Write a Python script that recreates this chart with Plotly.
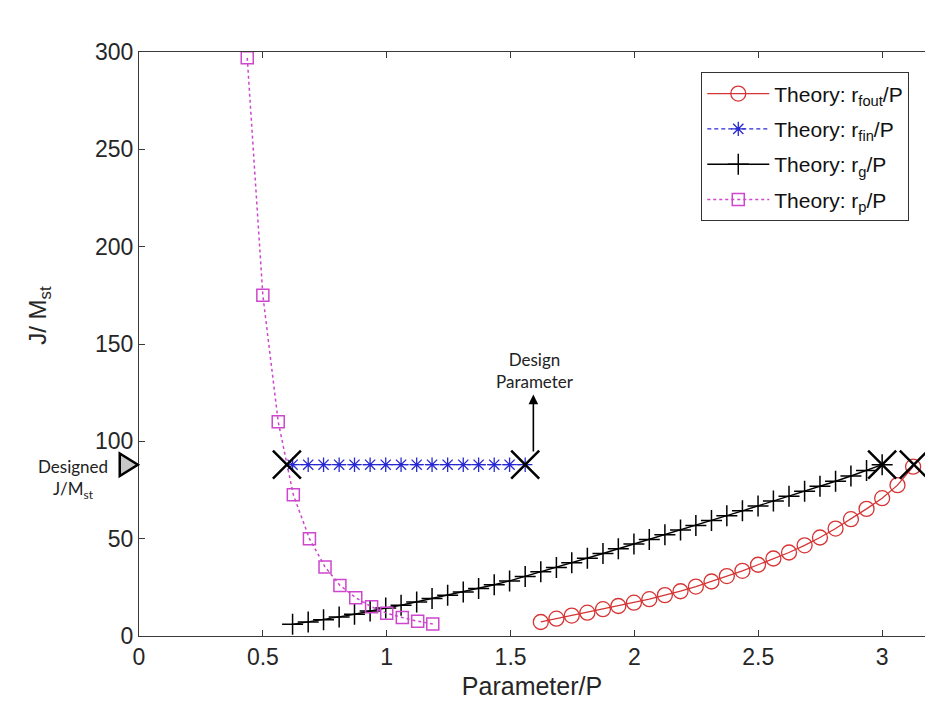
import plotly.graph_objects as go

# ---- data ----
grid_g = [0.620, 0.683, 0.745, 0.808, 0.870, 0.933, 0.996, 1.058, 1.121, 1.183,
          1.246, 1.309, 1.371, 1.434, 1.496, 1.559, 1.622, 1.685, 1.747, 1.810,
          1.873, 1.935, 1.998, 2.060, 2.123, 2.186, 2.248, 2.311, 2.373, 2.436,
          2.499, 2.561, 2.624, 2.687, 2.749, 2.812, 2.874, 2.937, 3.000]
rg_y = [6.0, 7.2, 8.4, 9.8, 11.2, 12.9, 14.4, 15.8, 17.5, 19.2,
        20.9, 22.6, 24.4, 26.3, 28.3, 30.6, 33.0, 35.2, 37.6, 40.0,
        42.4, 44.8, 47.2, 49.6, 52.0, 54.4, 56.8, 59.3, 61.8, 64.3,
        66.8, 69.3, 71.8, 74.3, 76.9, 79.5, 82.2, 85.0, 88.0]

rfout_x = [1.622, 1.685, 1.747, 1.810, 1.873, 1.935, 1.998, 2.060, 2.123, 2.186,
           2.248, 2.311, 2.373, 2.436, 2.499, 2.561, 2.624, 2.687, 2.749, 2.812,
           2.874, 2.937, 3.000, 3.062, 3.125]
rfout_y = [7.2, 8.9, 10.5, 12.0, 13.8, 15.4, 17.1, 18.9, 21.0, 23.0,
           25.4, 28.0, 30.8, 33.5, 36.6, 39.8, 42.9, 46.6, 50.6, 55.2,
           60.0, 65.3, 70.8, 77.5, 87.0]

rfin_x = [0.620, 0.683, 0.745, 0.808, 0.870, 0.933, 0.996, 1.058, 1.121, 1.183,
          1.246, 1.309, 1.371, 1.434, 1.496, 1.559]
rfin_y = [88, 88, 88, 88, 88, 88, 88, 88, 88, 88, 88, 88, 88, 88, 88, 88]

rp_x = [0.437, 0.500, 0.562, 0.623, 0.688, 0.751, 0.811, 0.875, 0.939, 1.000,
        1.063, 1.125, 1.186]
rp_y = [297.0, 175.0, 110.0, 72.5, 50.0, 35.5, 26.0, 19.7, 15.0, 11.7,
        9.5, 7.6, 6.2]

cross_x = [0.597, 1.559, 3.000, 3.128]
cross_y = [88, 88, 88, 88]

designed_value = 88
arrow_x = 1.592
arrow_tail_y = 94
arrow_head_y = 124

x_ticks = [0, 0.5, 1, 1.5, 2, 2.5, 3]
x_ticklabels = ["0", "0.5", "1", "1.5", "2", "2.5", "3"]
y_ticks = [0, 50, 100, 150, 200, 250, 300]

RED = "rgb(214,52,52)"
BLUE = "rgb(40,40,210)"
MAG = "rgb(205,70,205)"
AX = "#3a3a3a"
FONT = "Liberation Sans, Arial, sans-serif"

fig = go.Figure()

fig.add_trace(go.Scatter(
    x=rfout_x, y=rfout_y, mode="lines+markers", name="Theory: r<sub>fout</sub>/P",
    legendgroup="a",
    line=dict(color=RED, width=1.3),
    marker=dict(symbol="circle-open", size=15, color=RED, line=dict(width=1.3))))
fig.add_trace(go.Scatter(
    x=rfin_x, y=rfin_y, mode="lines+markers", name="Theory: r<sub>fin</sub>/P",
    legendgroup="b",
    line=dict(color=BLUE, width=1.2, dash="4px,3px"),
    marker=dict(symbol="asterisk-open", size=12, color=BLUE, line=dict(width=1.3, color=BLUE))))
fig.add_trace(go.Scatter(
    x=grid_g, y=rg_y, mode="lines+markers", name="Theory: r<sub>g</sub>/P",
    legendgroup="c",
    line=dict(color="black", width=1.4),
    marker=dict(symbol="cross-thin-open", size=15, color="black", line=dict(width=1.5, color="black"))))
fig.add_trace(go.Scatter(
    x=rp_x, y=rp_y, mode="lines+markers", name="Theory: r<sub>p</sub>/P",
    legendgroup="d",
    line=dict(color=MAG, width=1.5, dash="3px,3px"),
    marker=dict(symbol="square-open", size=12, color=MAG, line=dict(width=1.5, color=MAG))))

fig.add_trace(go.Scatter(
    x=cross_x, y=cross_y, mode="markers", showlegend=False, cliponaxis=False,
    marker=dict(symbol="x-thin-open", size=28, color="black", line=dict(width=2.5, color="black"))))

# designed-value triangle just left of the y axis (paper x, data y)
tri_half = 5.8
fig.add_shape(type="path", xref="paper", yref="y",
              path=(f"M -0.0245,{designed_value + tri_half} "
                    f"L -0.0245,{designed_value - tri_half} "
                    f"L -0.0015,{designed_value} Z"),
              fillcolor="#c8c8c8", line=dict(color="black", width=2.5), layer="above")

fig.add_annotation(x=arrow_x, y=arrow_head_y, ax=arrow_x, ay=arrow_tail_y,
                   xref="x", yref="y", axref="x", ayref="y", text="",
                   showarrow=True, arrowhead=2, arrowsize=1.2, arrowwidth=1.6, arrowcolor="black")
fig.add_annotation(x=1.60, y=136.5, xref="x", yref="y", xanchor="center", yanchor="middle",
                   text="Design<br>Parameter", showarrow=False,
                   font=dict(family="Lato, sans-serif", size=17, color="#222"), align="center")
fig.add_annotation(x=-0.084, y=80.5, xref="paper", yref="y", xanchor="center", yanchor="middle",
                   text="Designed<br>J/M<sub>st</sub>", showarrow=False,
                   font=dict(family="Lato, sans-serif", size=17, color="#222"), align="center")
fig.add_annotation(x=-0.126, y=0.55, xref="paper", yref="paper", textangle=-90,
                   xanchor="center", yanchor="middle",
                   text="J/ M<sub>st</sub>", showarrow=False,
                   font=dict(size=24, family=FONT, color="#262626"))

fig.update_layout(
    width=925, height=709,
    margin=dict(l=139, r=0, t=52, b=73),
    paper_bgcolor="white", plot_bgcolor="white",
    font=dict(family=FONT, color="#262626"),
    showlegend=True,
    legend=dict(x=0.98, y=0.965, xanchor="right", yanchor="top",
                bgcolor="white", bordercolor="#333", borderwidth=1,
                font=dict(size=21, family=FONT, color="#111"),
                tracegroupgap=5, itemwidth=62),
    xaxis=dict(range=[0, 3.173], tickvals=x_ticks, ticktext=x_ticklabels,
               showgrid=False, zeroline=False, showline=True, linecolor=AX, linewidth=1,
               mirror="ticks", ticks="inside", ticklen=6, tickcolor=AX,
               tickfont=dict(size=23, family=FONT, color="#262626"),
               title=dict(text="Parameter/P", font=dict(size=25, family=FONT, color="#262626"), standoff=8)),
    yaxis=dict(range=[0, 300], tickvals=y_ticks,
               showgrid=False, zeroline=False, showline=True, linecolor=AX, linewidth=1,
               ticks="inside", ticklen=6, tickcolor=AX,
               tickfont=dict(size=23, family=FONT, color="#262626")),
)

fig.write_html("out.html")
